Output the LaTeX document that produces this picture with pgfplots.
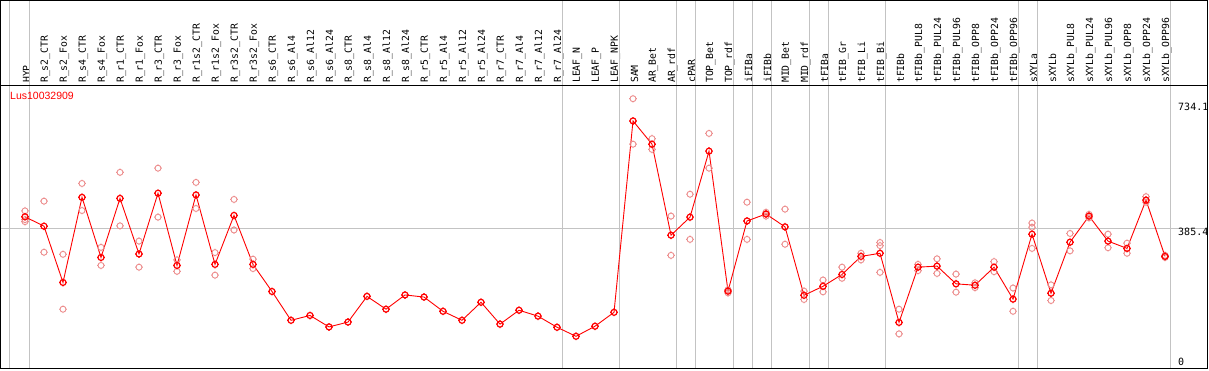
\documentclass[border=0pt]{standalone}
\usepackage{fontspec}
\usepackage{pgfplots}
\pgfplotsset{compat=1.18}
\setmainfont{Liberation Sans}
\newfontfamily\mono{DejaVu Sans Mono}
\definecolor{mred}{RGB}{255,0,0}
\definecolor{rpink}{RGB}{236,140,140}
\definecolor{sep}{RGB}{195,195,195}
\pgfdeclareplotmark{tc}{%
  \pgfpathcircle{\pgfpointorigin}{\pgfplotmarksize}%
  \pgfpathmoveto{\pgfqpoint{0pt}{\pgfplotmarksize}}\pgfpathlineto{\pgfqpoint{0pt}{1.3\pgfplotmarksize}}%
  \pgfpathmoveto{\pgfqpoint{0pt}{-\pgfplotmarksize}}\pgfpathlineto{\pgfqpoint{0pt}{-1.3\pgfplotmarksize}}%
  \pgfpathmoveto{\pgfqpoint{\pgfplotmarksize}{0pt}}\pgfpathlineto{\pgfqpoint{1.3\pgfplotmarksize}{0pt}}%
  \pgfpathmoveto{\pgfqpoint{-\pgfplotmarksize}{0pt}}\pgfpathlineto{\pgfqpoint{-1.3\pgfplotmarksize}{0pt}}%
  \pgfusepathqstroke}
\begin{document}
\begin{tikzpicture}
\begin{axis}[at={(0.5pt,2pt)}, anchor=south west, scale only axis,
  width=1207pt, height=282pt,
  xmin=-1.2895, xmax=62.237, ymin=-17.27, ymax=794.5,
  axis line style={draw=none},
  xtick={0,...,60},
  xticklabels={HYP,R\_s2\_CTR,R\_s2\_Fox,R\_s4\_CTR,R\_s4\_Fox,R\_r1\_CTR,R\_r1\_Fox,R\_r3\_CTR,R\_r3\_Fox,R\_r1s2\_CTR,R\_r1s2\_Fox,R\_r3s2\_CTR,R\_r3s2\_Fox,R\_s6\_CTR,R\_s6\_Al4,R\_s6\_Al12,R\_s6\_Al24,R\_s8\_CTR,R\_s8\_Al4,R\_s8\_Al12,R\_s8\_Al24,R\_r5\_CTR,R\_r5\_Al4,R\_r5\_Al12,R\_r5\_Al24,R\_r7\_CTR,R\_r7\_Al4,R\_r7\_Al12,R\_r7\_Al24,LEAF\_N,LEAF\_P,LEAF\_NPK,SAM,AR\_Bet,AR\_rdf,cPAR,TOP\_Bet,TOP\_rdf,iFIBa,iFIBb,MID\_Bet,MID\_rdf,tFIBa,tFIB\_Gr,tFIB\_Li,tFIB\_Bi,tFIBb,tFIBb\_PUL8,tFIBb\_PUL24,tFIBb\_PUL96,tFIBb\_OPP8,tFIBb\_OPP24,tFIBb\_OPP96,sXYLa,sXYLb,sXYLb\_PUL8,sXYLb\_PUL24,sXYLb\_PUL96,sXYLb\_OPP8,sXYLb\_OPP24,sXYLb\_OPP96},
  xticklabel pos=upper, xticklabel shift=3pt,
  x tick label style={rotate=90, anchor=west, inner sep=0pt, yshift=-1.5pt, font=\mono\fontsize{9.8}{10}\selectfont},
  major tick length=0pt, ytick=\empty, clip=false]
\pgfplotsinvokeforeach{-0.79,0.263,28.263,31.263,34.263,35.263,37.263,38.263,39.263,41.263,42.263,45.263,52.263,53.263,60.263}{
  \draw[sep, line width=1pt] (axis cs:#1,-17.27) -- ([yshift=85.5pt]axis cs:#1,794.5);
}
\draw[sep, line width=1pt] (axis cs:-1.2895,385.4) -- (axis cs:62.237,385.4);
\addplot[only marks, mark=tc, mark size=3pt, mark options={draw=rpink, line width=0.9pt}] coordinates {
(0,435)(0,410)(0,404)
(1,463)(1,316)
(2,310)(2,152)
(3,514)(3,436)
(4,330)(4,278)
(5,546)(5,392)
(6,348)(6,273)
(7,558)(7,417)
(8,294)(8,261)
(9,517)(9,442)
(10,315)(10,250)
(11,468)(11,380)
(12,296)(12,269)
(32,758)(32,627)
(33,643)(33,612)
(34,420)(34,307)
(35,483)(35,353)
(36,658)(36,558)
(37,208)(37,199)
(38,460)(38,353)
(39,431)(39,420)
(40,440)(40,339)
(41,204)(41,180)
(42,236)(42,202)
(43,273)(43,241)
(44,313)(44,294)
(45,344)(45,335)(45,258)
(46,152)(46,81)
(47,281)(47,263)
(48,297)(48,255)
(49,253)(49,201)
(50,228)(50,214)
(51,289)(51,260)
(52,213)(52,146)
(53,400)(53,388)(53,327)
(54,222)(54,177)
(55,370)(55,320)
(56,425)(56,415)
(57,368)(57,329)
(58,342)(58,313)
(59,476)(59,460)
(60,307)(60,301)
};
\addplot[mred, line width=0.9pt, mark=tc, mark size=3pt, mark options={line width=1.2pt}] coordinates {
(0,418)(1,391)(2,229)(3,474)(4,301)(5,471)(6,311)(7,486)(8,278)(9,481)
(10,281)(11,422)(12,281)(13,203)(14,120)(15,134)(16,101)(17,115)(18,189)(19,152)
(20,193)(21,187)(22,146)(23,120)(24,172)(25,109)(26,149)(27,132)(28,100)(29,74)
(30,103)(31,143)(32,694)(33,627)(34,365)(35,417)(36,607)(37,204)(38,406)(39,426)
(40,389)(41,192)(42,218)(43,252)(44,304)(45,313)(46,114)(47,273)(48,276)(49,225)
(50,221)(51,273)(52,181)(53,368)(54,198)(55,345)(56,420)(57,348)(58,327)(59,466)
(60,304)
};
\end{axis}
\draw[black, line width=1pt] (0.5pt,2pt) rectangle (1207.5pt,369.5pt);
\draw[black, line width=1pt] (0.5pt,284pt) -- (1207.5pt,284pt);
\node[anchor=north west, inner sep=0pt, text=mred, font=\fontsize{10.5}{12}\selectfont] at (10pt,278pt) {Lus10032909};
\node[anchor=west, inner sep=0pt, font=\mono\fontsize{10}{12}\selectfont] at (1178pt,263pt) {734.1};
\node[anchor=west, inner sep=0pt, font=\mono\fontsize{10}{12}\selectfont] at (1178pt,138pt) {385.4};
\node[anchor=west, inner sep=0pt, font=\mono\fontsize{10}{12}\selectfont] at (1178pt,8pt) {0};
\pgfresetboundingbox
\path[use as bounding box] (0,0) rectangle (1209pt,370pt);
\end{tikzpicture}
\end{document}
